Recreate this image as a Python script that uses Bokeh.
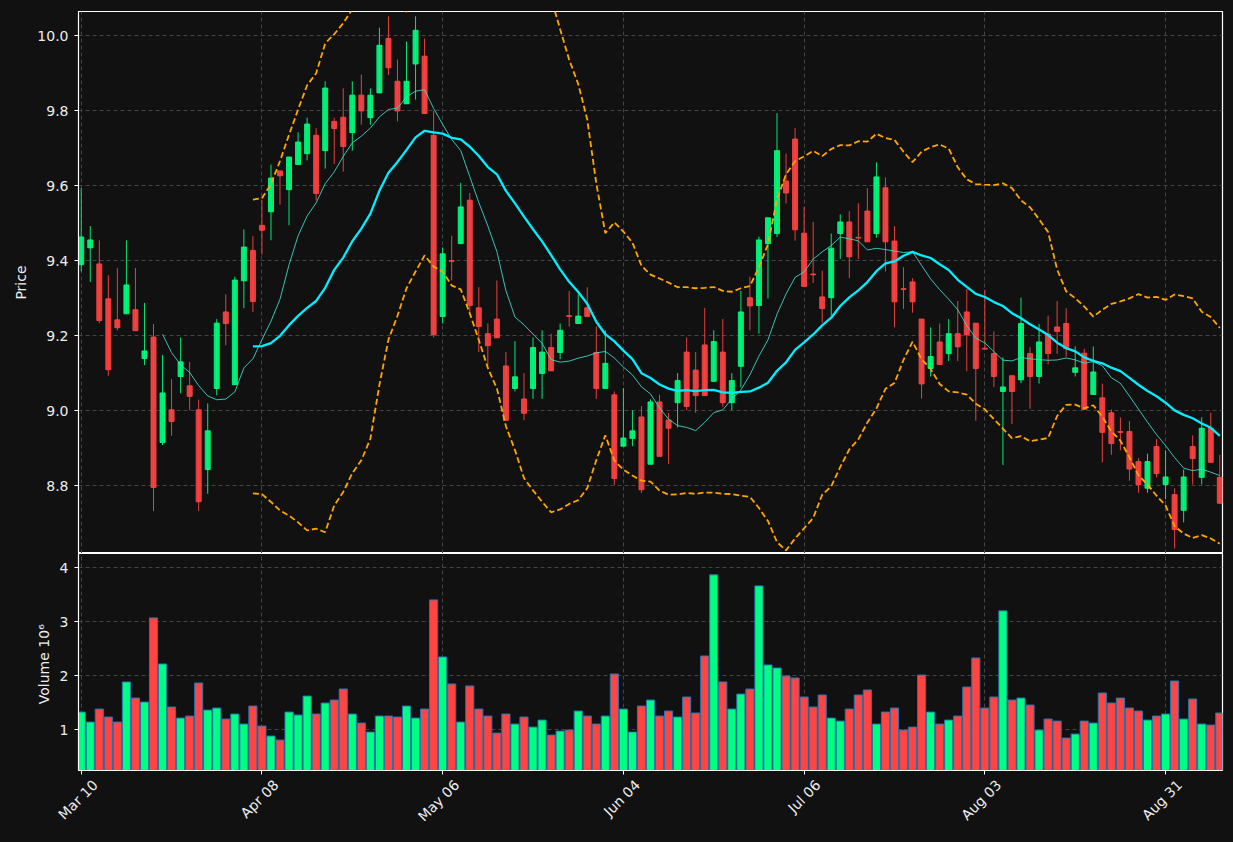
import math
import pandas as pd
from bokeh.plotting import figure
from bokeh.layouts import column
from bokeh.models import FixedTicker, Range1d, PrintfTickFormatter, ColumnDataSource, LinearAxis
from bokeh.embed import file_html
from bokeh.resources import INLINE

tick_index = [0, 20, 40, 60, 80, 100, 120]
tick_labels = ["Mar 10", "Apr 08", "May 06", "Jun 04", "Jul 06", "Aug 03", "Aug 31"]

opens = [9.389, 9.434, 9.391, 9.298, 9.242, 9.258, 9.269, 9.139, 9.196, 8.915,
         9.002, 9.091, 9.066, 9.002, 8.843, 9.059, 9.263, 9.069, 9.346, 9.427,
         9.494, 9.530, 9.639, 9.589, 9.656, 9.685, 9.734, 9.693, 9.771, 9.782,
         9.741, 9.841, 9.781, 9.847, 9.992, 9.878, 9.818, 9.924, 9.945, 9.734,
         9.251, 9.400, 9.445, 9.561, 9.274, 9.205, 9.244, 9.119, 9.059, 9.031,
         9.059, 9.099, 9.168, 9.155, 9.253, 9.232, 9.274, 9.155, 9.059, 9.042,
         8.905, 8.926, 8.983, 8.857, 9.023, 8.975, 9.021, 9.156, 9.108, 9.175,
         9.078, 9.156, 9.021, 9.118, 9.301, 9.280, 9.445, 9.472, 9.612, 9.724,
         9.473, 9.364, 9.303, 9.301, 9.472, 9.503, 9.462, 9.532, 9.472, 9.594,
         9.452, 9.325, 9.343, 9.244, 9.112, 9.183, 9.152, 9.205, 9.263, 9.233,
         9.166, 9.152, 9.051, 9.093, 9.082, 9.152, 9.091, 9.204, 9.223, 9.232,
         9.102, 9.153, 9.043, 9.034, 8.994, 8.944, 8.944, 8.864, 8.793, 8.904,
         8.803, 8.776, 8.734, 8.904, 8.822, 8.953, 8.822]
highs = [9.593, 9.492, 9.454, 9.361, 9.380, 9.454, 9.380, 9.287, 9.231, 9.148,
         9.084, 9.195, 9.130, 9.029, 9.019, 9.244, 9.310, 9.357, 9.483, 9.465,
         9.561, 9.656, 9.639, 9.676, 9.742, 9.781, 9.753, 9.878, 9.781, 9.859,
         9.878, 9.896, 9.859, 10.021, 10.051, 9.936, 9.984, 10.051, 9.992, 9.799,
         9.435, 9.466, 9.607, 9.580, 9.329, 9.232, 9.347, 9.156, 9.185, 9.100,
         9.195, 9.214, 9.205, 9.232, 9.319, 9.310, 9.329, 9.224, 9.214, 9.051,
         9.060, 9.001, 9.012, 9.030, 9.042, 8.994, 9.100, 9.195, 9.156, 9.274,
         9.214, 9.244, 9.100, 9.319, 9.357, 9.464, 9.514, 9.793, 9.685, 9.753,
         9.543, 9.503, 9.373, 9.472, 9.523, 9.532, 9.553, 9.593, 9.662, 9.622,
         9.492, 9.382, 9.353, 9.244, 9.222, 9.232, 9.244, 9.292, 9.324, 9.233,
         9.322, 9.211, 9.142, 9.093, 9.301, 9.169, 9.231, 9.253, 9.292, 9.273,
         9.171, 9.165, 9.171, 9.072, 9.003, 8.982, 8.972, 8.873, 8.885, 8.924,
         8.894, 8.793, 8.843, 8.934, 8.982, 8.994, 8.882]
lows = [9.371, 9.343, 9.233, 9.093, 9.214, 9.258, 9.213, 9.121, 8.732, 8.908,
        8.933, 9.046, 9.001, 8.732, 8.778, 9.041, 9.174, 9.069, 9.273, 9.263,
        9.416, 9.454, 9.549, 9.494, 9.656, 9.667, 9.560, 9.645, 9.657, 9.637,
        9.693, 9.762, 9.762, 9.847, 9.895, 9.771, 9.818, 9.829, 9.792, 9.195,
        9.232, 9.347, 9.445, 9.261, 9.156, 9.119, 9.194, 8.974, 9.051, 8.974,
        9.031, 9.031, 9.106, 9.137, 9.224, 9.232, 9.251, 9.031, 9.059, 8.802,
        8.905, 8.905, 8.780, 8.857, 8.878, 8.858, 8.955, 9.001, 8.994, 9.040,
        9.078, 9.010, 9.001, 9.062, 9.214, 9.205, 9.299, 9.463, 9.552, 9.453,
        9.331, 9.340, 9.234, 9.253, 9.404, 9.353, 9.404, 9.450, 9.461, 9.371,
        9.222, 9.271, 9.261, 9.032, 9.091, 9.123, 9.132, 9.132, 9.105, 8.973,
        9.164, 9.063, 8.855, 8.964, 9.073, 9.005, 9.072, 9.123, 9.151, 9.144,
        9.091, 9.003, 9.043, 8.862, 8.882, 8.894, 8.813, 8.781, 8.781, 8.822,
        8.764, 8.632, 8.702, 8.803, 8.803, 8.862, 8.753]
closes = [9.463, 9.455, 9.240, 9.109, 9.221, 9.335, 9.213, 9.159, 8.795, 9.047,
          8.971, 9.130, 9.038, 8.757, 8.946, 9.233, 9.232, 9.348, 9.436, 9.291,
          9.481, 9.620, 9.626, 9.676, 9.716, 9.764, 9.579, 9.860, 9.752, 9.704,
          9.841, 9.799, 9.841, 9.974, 9.914, 9.799, 9.878, 10.014, 9.792, 9.202,
          9.418, 9.398, 9.543, 9.280, 9.224, 9.173, 9.194, 8.974, 9.090, 8.993,
          9.168, 9.156, 9.106, 9.214, 9.251, 9.252, 9.251, 9.059, 9.126, 8.819,
          8.927, 8.946, 8.789, 9.023, 8.878, 8.953, 9.080, 9.011, 9.040, 9.040,
          9.184, 9.021, 9.080, 9.263, 9.279, 9.455, 9.514, 9.693, 9.580, 9.482,
          9.331, 9.362, 9.272, 9.433, 9.503, 9.410, 9.460, 9.450, 9.623, 9.450,
          9.290, 9.323, 9.290, 9.071, 9.144, 9.123, 9.205, 9.170, 9.202, 9.112,
          9.164, 9.091, 9.063, 9.051, 9.232, 9.091, 9.183, 9.152, 9.211, 9.165,
          9.114, 9.003, 9.103, 8.942, 8.912, 8.942, 8.844, 8.803, 8.864, 8.832,
          8.823, 8.683, 8.823, 8.872, 8.953, 8.862, 8.753]
# volume in millions
volume = [1.327, 1.142, 1.383, 1.235, 1.142, 1.883, 1.586, 1.512, 3.068, 2.216,
          1.420, 1.216, 1.253, 1.864, 1.364, 1.401, 1.198, 1.290, 1.105, 1.438,
          1.068, 0.883, 0.809, 1.327, 1.272, 1.623, 1.290, 1.494, 1.549, 1.753,
          1.290, 1.123, 0.957, 1.253, 1.253, 1.235, 1.438, 1.216, 1.383, 3.401,
          2.346, 1.846, 1.142, 1.809, 1.383, 1.253, 0.938, 1.290, 1.105, 1.235,
          1.049, 1.179, 0.901, 0.975, 0.994, 1.346, 1.253, 1.105, 1.253, 2.031,
          1.383, 0.957, 1.438, 1.549, 1.253, 1.346, 1.235, 1.605, 1.309, 2.364,
          3.864, 1.883, 1.383, 1.660, 1.753, 3.660, 2.198, 2.142, 1.994, 1.957,
          1.605, 1.420, 1.642, 1.216, 1.160, 1.383, 1.642, 1.735, 1.105, 1.327,
          1.401, 0.994, 1.049, 2.012, 1.327, 1.105, 1.179, 1.253, 1.790, 2.327,
          1.401, 1.605, 3.198, 1.549, 1.586, 1.457, 0.994, 1.198, 1.160, 0.846,
          0.920, 1.160, 1.123, 1.679, 1.494, 1.586, 1.401, 1.346, 1.179, 1.253,
          1.290, 1.901, 1.198, 1.568, 1.105, 1.086, 1.309]

UP, DOWN = "#00ff80", "#ff4444"
BG = "#111111"
FONT = "DejaVu Sans"

df = pd.DataFrame({"open": opens, "high": highs, "low": lows,
                   "close": closes, "volume": volume})
df["x"] = range(len(df))
df["top"] = df[["open", "close"]].max(axis=1)
df["bottom"] = df[["open", "close"]].min(axis=1)
df["color"] = [UP if c > o else DOWN for o, c in zip(df["open"], df["close"])]

ma10 = df["close"].rolling(10).mean()
ma20 = df["close"].rolling(20).mean()
sd20 = df["close"].rolling(20).std(ddof=0)
upper = ma20 + 2 * sd20
lower = ma20 - 2 * sd20

src = ColumnDataSource(df)


def style(p):
    p.background_fill_color = BG
    p.border_fill_color = BG
    p.outline_line_color = "white"
    p.outline_line_width = 1.2
    for ax in p.axis:
        ax.axis_line_color = "white"
        ax.major_tick_line_color = "white"
        ax.major_tick_out = 4
        ax.major_tick_in = 0
        ax.minor_tick_line_color = None
        ax.major_label_text_color = "#eeeeee"
        ax.major_label_text_font = FONT
        ax.major_label_text_font_size = "14px"
        ax.major_label_standoff = 6
        ax.axis_label_text_color = "#eeeeee"
        ax.axis_label_text_font = FONT
        ax.axis_label_text_font_size = "14px"
        ax.axis_label_text_font_style = "normal"
    for g in p.grid:
        g.grid_line_color = "#444444"
        g.grid_line_dash = "4 3"
        g.grid_line_width = 1
    p.xgrid.ticker = FixedTicker(ticks=tick_index)


xr = Range1d(-0.3, 126.3)

p1 = figure(x_range=xr, y_range=Range1d(8.619, 10.064), frame_width=1144, frame_height=542,
            min_border_left=78, min_border_right=10, min_border_top=11, min_border_bottom=0,
            toolbar_location=None, output_backend="svg", y_axis_label="Price")
p1.segment("x", "high", "x", "low", source=src, color="color", line_width=1, alpha=0.9)
p1.vbar(x="x", top="top", bottom="bottom", width=0.55, source=src,
        fill_color="color", line_color="color", fill_alpha=0.9, line_alpha=0.9)
p1.line(df["x"], ma10, color="#40e0d0", line_width=1, alpha=0.85)
p1.line(df["x"], ma20, color="#00eeff", line_width=2.3)
p1.line(df["x"], upper, color="orange", line_width=1.8, line_dash="6 3")
p1.line(df["x"], lower, color="orange", line_width=1.8, line_dash="6 3")
p1.xaxis.visible = False
p1.yaxis.ticker = FixedTicker(ticks=[8.8, 9.0, 9.2, 9.4, 9.6, 9.8, 10.0])
p1.yaxis.formatter = PrintfTickFormatter(format="%.1f")
style(p1)

p2 = figure(x_range=xr, y_range=Range1d(0.246, 4.259), frame_width=1144, frame_height=217,
            min_border_left=78, min_border_right=10, min_border_top=0, min_border_bottom=4,
            toolbar_location=None, output_backend="svg", y_axis_label="Volume  10\u2076")
p2.vbar(x="x", top="volume", bottom=0, width=0.9, source=src,
        fill_color="color", line_color="#1f77b4", line_width=1)
p2.yaxis.ticker = FixedTicker(ticks=[1, 2, 3, 4])
p2.xaxis.ticker = FixedTicker(ticks=tick_index)
p2.xaxis.major_label_overrides = {i: "" for i in tick_index}

# date labels: a second bottom axis, shifted so each rotated label is centred under its tick
shift = 1.55
date_axis = LinearAxis(ticker=FixedTicker(ticks=[i + shift for i in tick_index]),
                       major_label_overrides={i + shift: lab for i, lab in zip(tick_index, tick_labels)})
p2.add_layout(date_axis, "below")
style(p2)
p2.xaxis.major_label_standoff = 2
date_axis.axis_line_color = None
date_axis.major_tick_line_color = None
date_axis.major_tick_out = 0
date_axis.major_label_standoff = 8
date_axis.major_label_orientation = math.pi / 4

layout = column(p1, p2, spacing=0)
html = file_html(layout, INLINE)
html = html.replace("</head>", "<style>html, body { background-color: #111111; }</style></head>", 1)
open("out.html", "w").write(html)
